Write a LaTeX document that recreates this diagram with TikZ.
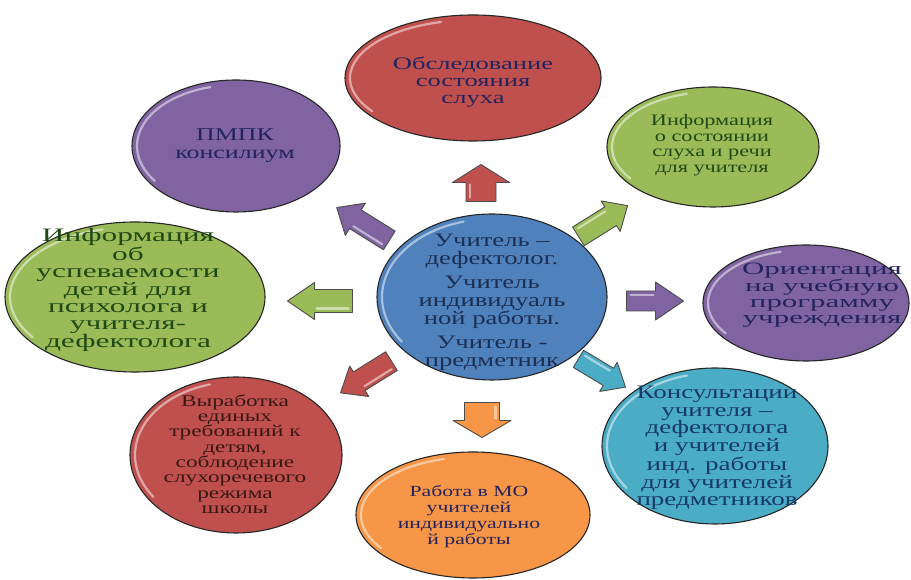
\documentclass[tikz,border=0pt]{standalone}
\usepackage{fontspec}
\setmainfont{Liberation Serif}[FakeStretch=1.4]
\usetikzlibrary{shapes.geometric,calc}
\definecolor{ored}{HTML}{C0504D}
\definecolor{opurple}{HTML}{8064A2}
\definecolor{ogreen}{HTML}{9BBB59}
\definecolor{oblue}{HTML}{4F81BD}
\definecolor{ocyan}{HTML}{4BACC6}
\definecolor{oorange}{HTML}{F79646}
\definecolor{tnavy}{HTML}{23235E}
\definecolor{tgreen}{HTML}{1F4A14}
\definecolor{tblue}{HTML}{1C2F52}
\definecolor{tcyan}{HTML}{163A66}
\definecolor{tdark}{HTML}{3A1812}
% size, baselineskip, horizontal stretch
\newcommand\fs[3]{\fontspec{Liberation Serif}[FakeStretch=#3]\fontsize{#1}{#2}\selectfont}
% name, x, y, rx, ry, colour
\newcommand\bubble[6]{%
  \node[bub, fill=#6, minimum width={2*#4}, minimum height={2*#5}] (#1) at (#2,#3) {};
  \draw[hl] (#2,#3) ++(105:{#4-5} and {#5-5}) arc[start angle=105, end angle=215, x radius={#4-5}, y radius={#5-5}];
}
% x, y, angle, length, head width, shaft width, head length, colour
\newcommand\blockarr[8]{%
  \begin{scope}[shift={(#1,#2)}, rotate=#3]
    \draw[arrowst, fill=#8] ({#4/2},0) -- ({#4/2-#7},{#5/2}) -- ({#4/2-#7},{#6/2}) -- ({-#4/2},{#6/2})
      -- ({-#4/2},{-#6/2}) -- ({#4/2-#7},{-#6/2}) -- ({#4/2-#7},{-#5/2}) -- cycle;
    \draw[hl] ({-#4/2+4},{#6/2-4}) -- ({#4/2-#7-2},{#6/2-4});
  \end{scope}
}
\tikzset{
  bub/.style={ellipse, draw=black!85, line width=1.1pt, inner sep=0pt},
  hl/.style={white, opacity=0.5, line width=2.2pt, line cap=round},
  txt/.style={align=center, inner sep=0pt},
  arrowst/.style={draw=black!70, line width=0.9pt, line join=round},
}
\begin{document}
\begin{tikzpicture}[x=1pt,y=1pt]
\useasboundingbox[fill=white] (0,0) rectangle (911,580);

\bubble{obs}{473}{502}{128}{63}{ored}
\bubble{pmpk}{236}{434}{104}{66}{opurple}
\bubble{infoa}{713}{433}{106}{60}{ogreen}
\bubble{infob}{135}{283}{130}{75}{ogreen}
\bubble{orient}{806}{277}{103}{58}{opurple}
\bubble{vyr}{236}{125}{106}{78}{ored}
\bubble{rab}{473}{65}{117}{63}{oorange}
\bubble{kons}{715}{134}{113}{78}{ocyan}
\bubble{centre}{492}{283}{115}{83}{oblue}

\node[txt, text=tnavy, font=\fs{17.6}{17}{1.51}] (tobs) at (473,498) {Обследование\\состояния\\слуха};
\node[txt, text=tnavy, font=\fs{18}{18}{1.44}] (tpmpk) at (235,434) {ПМПК\\консилиум};
\node[txt, text=tgreen, font=\fs{16}{15.6}{1.39}] (tinfoa) at (712,435) {Информация\\о состоянии\\слуха и речи\\для учителя};
\node[txt, text=tgreen, font=\fs{19}{17.4}{1.65}] (tinfob) at (128,290) {Информация\\об\\успеваемости\\детей для\\психолога и\\учителя-\\дефектолога};
\node[txt, text=tnavy, font=\fs{17.3}{15.7}{1.79}] (torient) at (822,285) {Ориентация\\на учебную\\программу\\учреждения};
\node[txt, text=tdark, font=\fs{16.4}{15.3}{1.42}] (tvyr) at (235,126) {Выработка\\единых\\требований к\\детям,\\соблюдение\\слухоречевого\\режима\\школы};
\node[txt, text=tnavy, font=\fs{15.5}{16}{1.4}] (trab) at (469,63) {Работа в МО\\учителей\\индивидуально\\й работы};
\node[txt, text=tcyan, font=\fs{19}{17.7}{1.42}] (tkons) at (717,132) {Консультации\\учителя –\\дефектолога\\и учителей\\инд. работы\\для учителей\\предметников};
\node[txt, text=tblue, font=\fs{19}{18}{1.4}] (tcentre) at (492,278) {Учитель –\\дефектолог.\\[6pt]Учитель\\индивидуаль\\ной работы.\\[6pt]Учитель -\\предметник};

\blockarr{481}{397}{90}{37}{57}{30}{18}{ored}
\blockarr{363}{356}{148}{62}{38}{22}{22}{opurple}
\blockarr{603}{359}{32}{58}{36}{22}{20}{ogreen}
\blockarr{320}{279}{180}{65}{37}{23}{27}{ogreen}
\blockarr{655}{279}{0}{57}{38}{20}{28}{opurple}
\blockarr{366}{203}{212}{60}{36}{22}{22}{ored}
\blockarr{602}{207}{329}{55}{34}{20}{20}{ocyan}
\blockarr{482}{160}{270}{35}{58}{35}{17}{oorange}
\end{tikzpicture}
\end{document}
